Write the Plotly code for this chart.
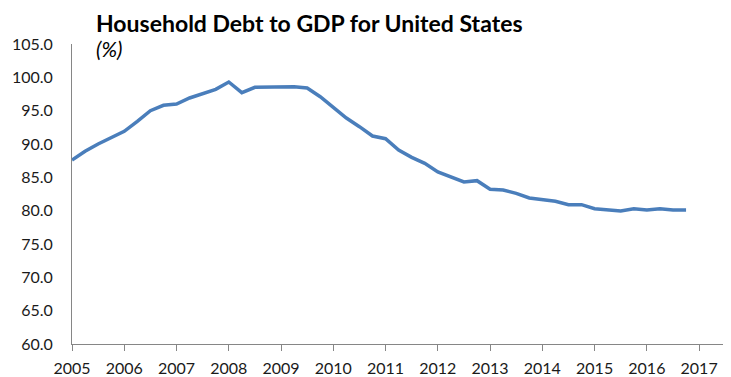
import plotly.graph_objects as go

quarters = [2005.00, 2005.25, 2005.50, 2005.75,
            2006.00, 2006.25, 2006.50, 2006.75,
            2007.00, 2007.25, 2007.50, 2007.75,
            2008.00, 2008.25, 2008.50, 2008.75,
            2009.00, 2009.25, 2009.50, 2009.75,
            2010.00, 2010.25, 2010.50, 2010.75,
            2011.00, 2011.25, 2011.50, 2011.75,
            2012.00, 2012.25, 2012.50, 2012.75,
            2013.00, 2013.25, 2013.50, 2013.75,
            2014.00, 2014.25, 2014.50, 2014.75,
            2015.00, 2015.25, 2015.50, 2015.75,
            2016.00, 2016.25, 2016.50, 2016.75]

debt_to_gdp = [87.6, 88.9, 90.0, 90.9,
               91.9, 93.4, 95.0, 95.8,
               96.0, 96.9, 97.6, 98.2,
               99.3, 97.7, 98.5, 98.5,
               98.5, 98.6, 98.4, 97.1,
               95.5, 93.9, 92.6, 91.2,
               90.8, 89.1, 88.0, 87.1,
               85.8, 85.1, 84.3, 84.5,
               83.2, 83.1, 82.6, 81.9,
               81.7, 81.4, 80.9, 80.9,
               80.3, 80.1, 79.95, 80.3,
               80.1, 80.3, 80.1, 80.1]

year_ticks = [2005, 2006, 2007, 2008, 2009, 2010, 2011, 2012, 2013, 2014, 2015, 2016, 2017]
y_ticks = [60, 65, 70, 75, 80, 85, 90, 95, 100, 105]

title_text = "Household Debt to GDP for United States"
unit_text = "(%)"

fig = go.Figure()
fig.add_trace(go.Scatter(
    x=quarters, y=debt_to_gdp, mode="lines",
    line=dict(color="#4A7EBB", width=3.5),
    hoverinfo="x+y", showlegend=False,
))

axis_font = dict(family="Lato, Calibri, sans-serif", size=16, color="#1a1a1a")

fig.update_layout(
    width=723, height=369,
    margin=dict(l=64, r=0, t=36, b=33),
    paper_bgcolor="white", plot_bgcolor="white",
    font=axis_font,
    xaxis=dict(
        range=[2005, 2017.61], tickvals=year_ticks, ticktext=[str(y) for y in year_ticks],
        showgrid=False, zeroline=False,
        showline=True, linecolor="#868686", linewidth=1,
        ticks="outside", ticklen=6, tickcolor="#868686", tickwidth=1,
        tickfont=axis_font, ticklabelstandoff=4,
    ),
    yaxis=dict(
        range=[60, 105], tickvals=y_ticks, tickformat=".1f",
        showgrid=False, zeroline=False,
        showline=True, linecolor="#868686", linewidth=1,
        ticks="", tickfont=axis_font, ticklabelstandoff=15,
    ),
    annotations=[
        dict(text="<b>" + title_text + "</b>", xref="paper", yref="paper",
             x=0, y=1.0, xanchor="left", yanchor="bottom", xshift=22, yshift=5,
             showarrow=False, font=dict(family="Lato, Calibri, sans-serif", size=23, color="#000000")),
        dict(text="<i>" + unit_text + "</i>", xref="paper", yref="paper",
             x=0, y=1.0, xanchor="left", yanchor="middle", xshift=22, yshift=-4,
             showarrow=False, font=dict(family="Lato, Calibri, sans-serif", size=21, color="#000000")),
    ],
)

fig.write_html("out.html")
